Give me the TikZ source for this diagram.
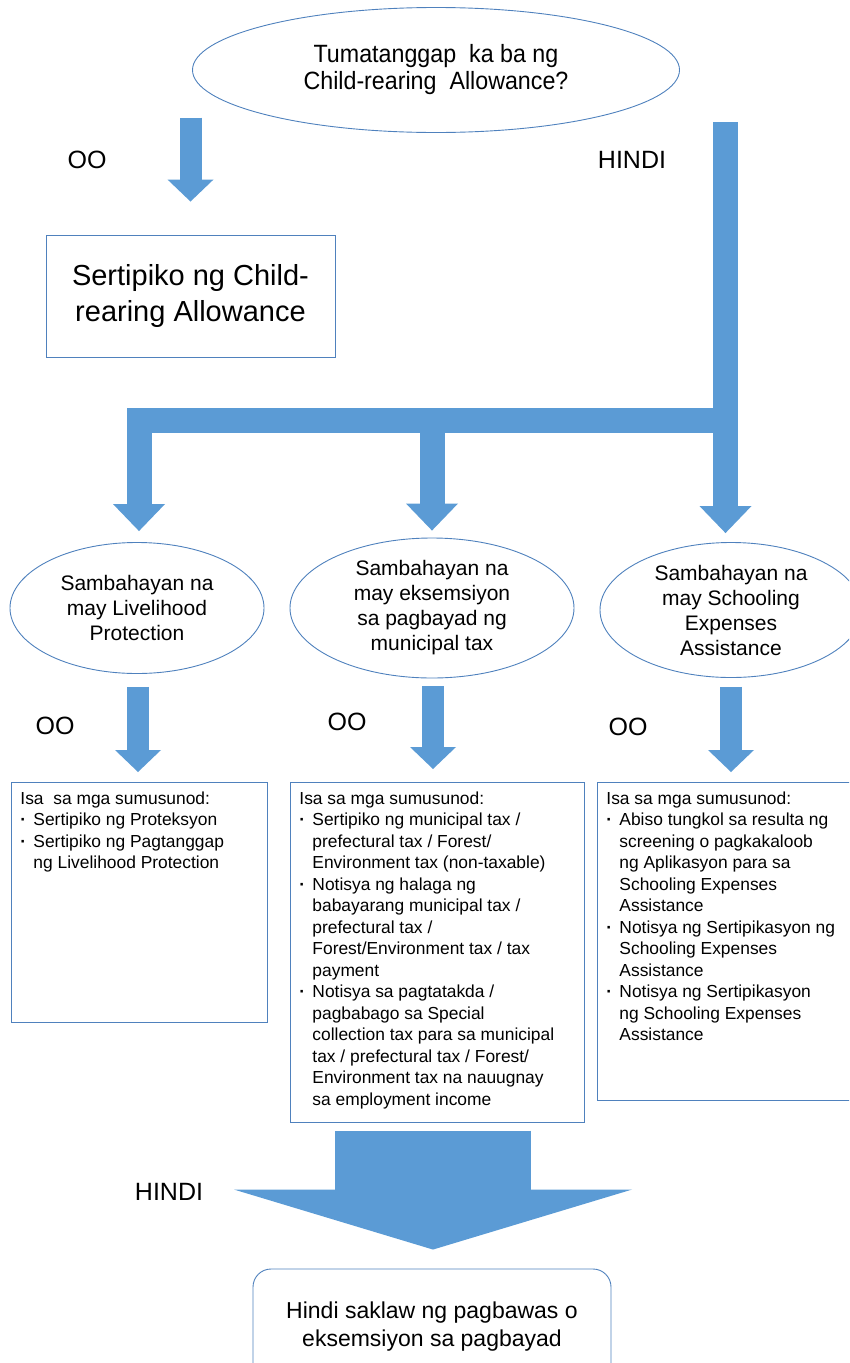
\documentclass[tikz,border=0pt]{standalone}
\usepackage{fontspec}
\setmainfont{Liberation Sans}
\newfontfamily\askfont[FakeStretch=0.93]{Liberation Sans}
\usetikzlibrary{shapes.geometric,arrows.meta,calc}

\definecolor{flowblue}{HTML}{5B9BD5}
\definecolor{edgeblue}{HTML}{4F81BD}

\newcommand{\dotitem}{\makebox[13pt][l]{\textbf{·}}}
\newcommand{\dotrest}{\hspace*{13pt}}
\newcommand{\boxlines}[3]{\parbox[t][#2][t]{#1}{\raggedright\fontsize{17.4}{21.5}\selectfont #3}}

\tikzset{
  oval/.style={ellipse,draw=edgeblue,line width=0.9pt,inner sep=0pt,align=center,
    font=\fontsize{21}{25}\selectfont},
  listbox/.style={draw=edgeblue,line width=0.9pt,anchor=north west,inner xsep=9pt,inner ysep=9pt},
  flow/.style={draw=flowblue,line width=22pt,-{Triangle[width=46pt,length=22pt,line width=0pt]}},
  flowbig/.style={draw=flowblue,line width=25pt,line join=miter,
    -{Triangle[width=52pt,length=27pt,line width=0pt]}},
  flowhuge/.style={draw=flowblue,line width=196pt,-{Triangle[width=398pt,length=60pt,line width=0pt]}},
  yesno/.style={font=\fontsize{25}{30}\selectfont}
}

\begin{document}
\begin{tikzpicture}[x=1pt,y=-1pt]

	\useasboundingbox (0,0) rectangle (849,1363);
	\clip (0,0) rectangle (849,1363);

	% question
	\node[oval,minimum width=487pt,minimum height=125pt,font=\askfont\fontsize{25}{27}\selectfont]
	  (ask) at (436,70) {Tumatanggap\ \ ka ba ng\\Child-rearing\ \ Allowance?};

	\node[draw=edgeblue,line width=0.9pt,minimum width=289pt,minimum height=122pt,
	  align=center,font=\fontsize{29}{36}\selectfont]
	  (cert) at (190.5,296) {Sertipiko ng Child-\\rearing Allowance};

	\node[yesno] (yes0) at (87,160) {OO};
	\node[yesno] (no0) at (632,160) {HINDI};

	% households
	\node[oval,minimum width=254pt,minimum height=131pt] (livelihood) at (137,608)
	  {Sambahayan na\\may Livelihood\\Protection};
	\node[oval,minimum width=284pt,minimum height=140pt] (exempt) at (432,608)
	  {Sambahayan na\\may eksemsiyon\\sa pagbayad ng\\municipal tax};
	\node[oval,minimum width=262pt,minimum height=135pt] (schooling) at (731,610)
	  {Sambahayan na\\may Schooling\\Expenses\\Assistance};

	\node[yesno] (yes1) at (55,726) {OO};
	\node[yesno] (yes2) at (347,722) {OO};
	\node[yesno] (yes3) at (628,727) {OO};

	% documents
	\node[listbox] (lbox) at (11,782) {\boxlines{238pt}{222pt}{%
	  Isa\ \ sa mga sumusunod:\\
	  \dotitem Sertipiko ng Proteksyon\\
	  \dotitem Sertipiko ng Pagtanggap\\
	  \dotrest ng Livelihood Protection}};

	\node[listbox] (mbox) at (290,782) {\boxlines{276pt}{322pt}{%
	  Isa sa mga sumusunod:\\
	  \dotitem Sertipiko ng municipal tax /\\
	  \dotrest prefectural tax / Forest/\\
	  \dotrest Environment tax (non-taxable)\\
	  \dotitem Notisya ng halaga ng\\
	  \dotrest babayarang municipal tax /\\
	  \dotrest prefectural tax /\\
	  \dotrest Forest/Environment tax / tax\\
	  \dotrest payment\\
	  \dotitem Notisya sa pagtatakda /\\
	  \dotrest pagbabago sa Special\\
	  \dotrest collection tax para sa municipal\\
	  \dotrest tax / prefectural tax / Forest/\\
	  \dotrest Environment tax na nauugnay\\
	  \dotrest sa employment income}};

	\node[listbox] (rbox) at (597,782) {\boxlines{255pt}{300pt}{%
	  Isa sa mga sumusunod:\\
	  \dotitem Abiso tungkol sa resulta ng\\
	  \dotrest screening o pagkakaloob\\
	  \dotrest ng Aplikasyon para sa\\
	  \dotrest Schooling Expenses\\
	  \dotrest Assistance\\
	  \dotitem Notisya ng Sertipikasyon ng\\
	  \dotrest Schooling Expenses\\
	  \dotrest Assistance\\
	  \dotitem Notisya ng Sertipikasyon\\
	  \dotrest ng Schooling Expenses\\
	  \dotrest Assistance}};

	% result
	\node[draw=edgeblue,line width=0.9pt,rounded corners=18pt,minimum width=358pt,
	  minimum height=115pt,align=center,font=\fontsize{23}{28}\selectfont]
	  (nocover) at (432,1326.5) {Hindi saklaw ng pagbawas o\\eksemsiyon sa pagbayad};

	\node[yesno] (no1) at (169,1192) {HINDI};

	% arrows
	\coordinate (hinditop) at (725.5,122);
	\coordinate (fork) at (725.5,420);

	\draw[flow] ($(cert.north)+(0,-117)$) -- ($(cert.north)+(0,-33)$);

	\draw[flowbig] (hinditop) -- ($(hinditop |- schooling.north)+(0,-9)$);
	\draw[flowbig] (fork) -| ($(livelihood.north)+(2,-11)$);
	\draw[flowbig] (fork -| exempt.north) -- ($(exempt.north)+(0,-7)$);

	\draw[flow] ($(livelihood.south)+(1,13)$) -- ($(livelihood.south |- lbox.north)+(1,-10)$);
	\draw[flow] ($(exempt.south)+(1,8)$) -- ($(exempt.south |- mbox.north)+(1,-13)$);
	\draw[flow] ($(schooling.south)+(0,9)$) -- ($(schooling.south |- rbox.north)+(0,-10)$);

	\draw[flowhuge] ($(nocover.north)+(1,-138)$) -- ($(nocover.north)+(1,-19)$);

\end{tikzpicture}
\end{document}
